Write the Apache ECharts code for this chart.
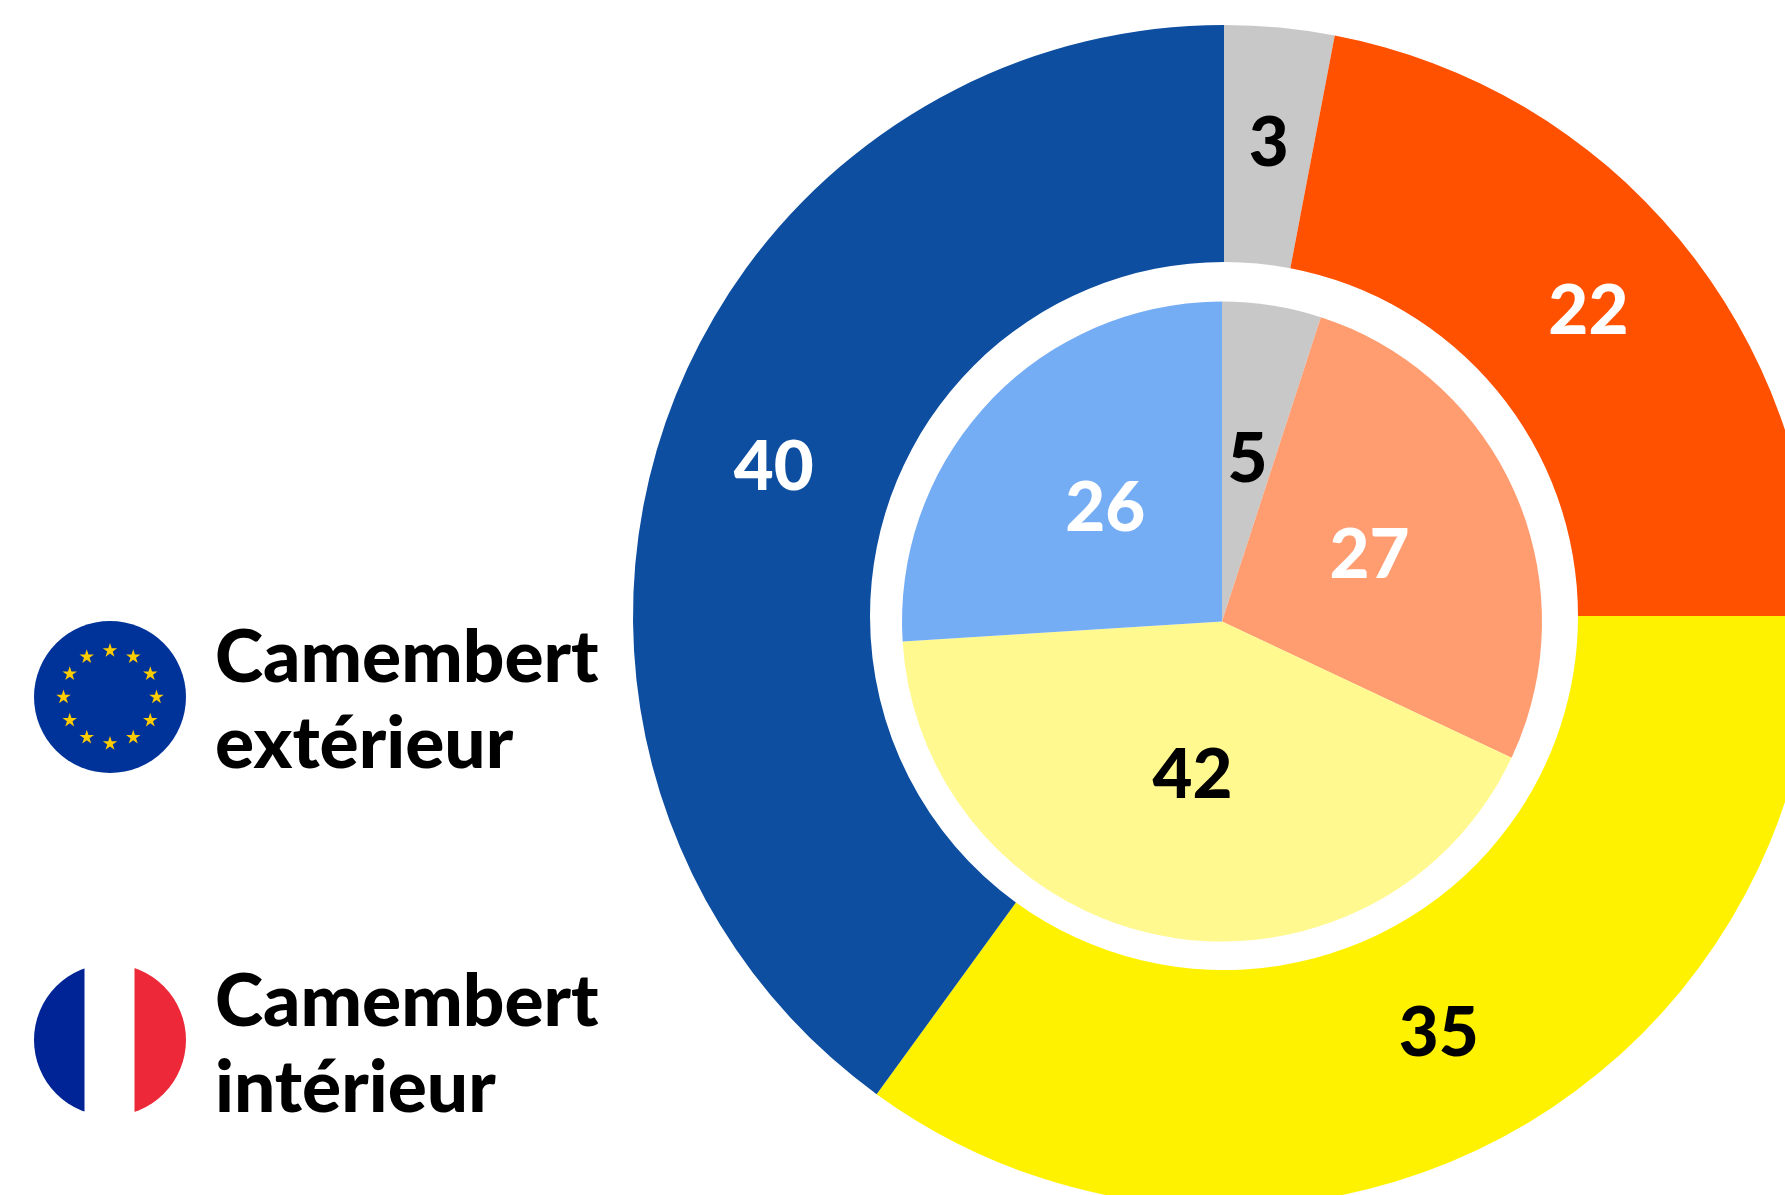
<!DOCTYPE html>
<html lang="fr">
<head>
<meta charset="utf-8">
<title>Camemberts</title>
<style>html,body{margin:0;padding:0;background:#fff}#chart{width:1785px;height:1195px}</style>
<script src="https://cdn.jsdelivr.net/npm/echarts@6/dist/echarts.min.js"></script>
</head>
<body>
<div id="chart"></div>
<script>
const categories = ['Autres', 'Groupe orange', 'Groupe jaune', 'Groupe bleu'];
const outerValues = [3, 22, 35, 40];
const innerValues = [5, 27, 42, 26];
const outerColors = ['#C8C8C8', '#FF5100', '#FFF200', '#0D4EA0'];
const innerColors = ['#C8C8C8', '#FF9C70', '#FFF98F', '#75ADF5'];
const labelColors = ['#000000', '#FFFFFF', '#000000', '#FFFFFF'];
const innerLabelColors = ['#000000', '#FFFFFF', '#000000', '#FFFFFF'];
const legendLabels = ['Camembert\nextérieur', 'Camembert\nintérieur'];
const FONT = 'Lato, "Noto Sans", sans-serif';
const outerNudge = [[0, 1], [-2, -1], [-1, -6], [2, -1]];
const innerNudge = [[0, -1], [-2, -1], [1, -6], [2, -1]];

function seriesData(values, colors, textColors, nudge) {
  return values.map((v, i) => ({
    name: categories[i], value: v,
    itemStyle: { color: colors[i] },
    label: { color: textColors[i], offset: nudge[i] }
  }));
}
function pie(name, center, radius, values, colors, textColors, nudge) {
  return {
    type: 'pie', name, center, radius, startAngle: 90, clockwise: true, silent: true,
    animation: false, avoidLabelOverlap: false,
    itemStyle: { borderWidth: 0 },
    label: { show: true, position: 'inside', formatter: '{c}', fontFamily: FONT, fontWeight: 900, fontSize: 69, lineHeight: 69 },
    labelLine: { show: false },
    emphasis: { disabled: true },
    data: seriesData(values, colors, textColors, nudge)
  };
}
function starPoints(cx, cy, R) {
  const pts = [];
  for (let i = 0; i < 10; i++) {
    const r = i % 2 ? R * 0.382 : R;
    const a = -Math.PI / 2 + i * Math.PI / 5;
    pts.push([cx + r * Math.cos(a), cy + r * Math.sin(a)]);
  }
  return pts;
}
const flagX = 110, flagR = 76, euY = 697, frY = 1040;
const graphics = [
  { type: 'circle', shape: { cx: flagX, cy: euY, r: flagR }, style: { fill: '#003399' } }
];
for (let i = 0; i < 12; i++) {
  const a = i * Math.PI / 6;
  graphics.push({ type: 'polygon', shape: { points: starPoints(flagX + 46.5 * Math.cos(a), euY + 46.5 * Math.sin(a), 7.6) }, style: { fill: '#FFCC00' } });
}
graphics.push(
  { type: 'sector', shape: { cx: flagX, cy: frY, r: flagR, r0: 0, startAngle: Math.PI / 2, endAngle: Math.PI * 1.5 }, style: { fill: '#002395' } },
  { type: 'sector', shape: { cx: flagX, cy: frY, r: flagR, r0: 0, startAngle: -Math.PI / 2, endAngle: Math.PI / 2 }, style: { fill: '#ED2939' } },
  { type: 'rect', shape: { x: 84.5, y: frY - flagR - 1, width: 50, height: flagR * 2 + 2 }, style: { fill: '#FFFFFF' } },
  { type: 'text', x: 215, y: 615, style: { text: legendLabels[0], fontFamily: FONT, fontWeight: 900, fontSize: 73, lineHeight: 86, fill: '#000000' } },
  { type: 'text', x: 215, y: 959, style: { text: legendLabels[1], fontFamily: FONT, fontWeight: 900, fontSize: 73, lineHeight: 86, fill: '#000000' } }
);
const chart = echarts.init(document.getElementById('chart'), null, { renderer: 'canvas' });
chart.setOption({
  animation: false,
  backgroundColor: '#FFFFFF',
  tooltip: { show: false },
  graphic: { elements: graphics },
  series: [
    pie('Camembert extérieur', [1224, 616], [354, 591], outerValues, outerColors, labelColors, outerNudge),
    pie('Camembert intérieur', [1222, 621.5], [0, 320], innerValues, innerColors, innerLabelColors, innerNudge)
  ]
});
</script>
</body>
</html>
